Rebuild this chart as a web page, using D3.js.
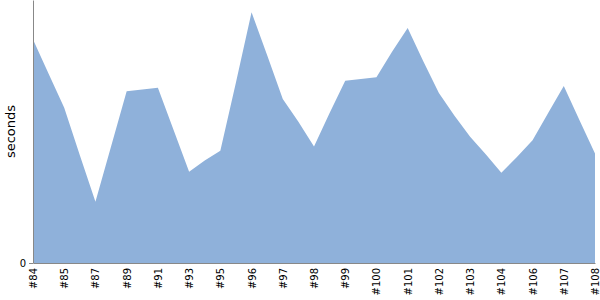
<!DOCTYPE html>
<html>
<head>
<meta charset="utf-8">
<script src="https://cdn.jsdelivr.net/npm/d3@7"></script>
<style>
  body { margin: 0; background: #fff; }
  svg { display: block; font-family: "DejaVu Sans", sans-serif; }
</style>
</head>
<body>
<div id="chart"></div>
<script>
// build labels (only every other point carries a label)
const buildLabels = ['#84', '#85', '#87', '#89', '#91', '#93', '#95', '#96', '#97', '#98',
  '#99', '#100', '#101', '#102', '#103', '#104', '#106', '#107', '#108'];
// duration per run, seconds
const durations = [255, 216, 177, 123, 70, 133, 196, 198, 200, 152, 104, 117, 128, 206, 286,
  237, 187, 161, 133, 171, 208, 210, 212, 241, 268, 230, 194, 168, 144, 124, 103, 121, 140,
  171, 202, 163, 125];
const yTicks = [0];
const yMax = 300;

const width = 600, height = 300;
const margin = { top: 0, right: 5, bottom: 37, left: 33 };

const svg = d3.select('#chart').append('svg')
  .attr('width', width).attr('height', height);

const x = d3.scaleLinear()
  .domain([0, durations.length - 1])
  .range([margin.left, width - margin.right]);
const y = d3.scaleLinear()
  .domain([0, yMax])
  .range([height - margin.bottom, margin.top]);

// area
const area = d3.area()
  .x((d, i) => x(i))
  .y0(y(0))
  .y1(d => y(d));

svg.append('path')
  .datum(durations)
  .attr('fill', '#8fb1da')
  .attr('d', area);

// x axis
const xAxis = svg.append('g')
  .attr('transform', 'translate(0,' + y(0) + ')')
  .call(d3.axisBottom(x)
    .tickValues(d3.range(0, durations.length, 2))
    .tickFormat(i => buildLabels[i / 2])
    .tickSize(0)
    .tickSizeOuter(0));
xAxis.select('.domain').attr('stroke', '#888');
xAxis.selectAll('text')
  .attr('font-size', 10)
  .attr('font-family', '"DejaVu Sans", sans-serif')
  .attr('fill', '#000')
  .attr('transform', 'rotate(-90)')
  .attr('text-anchor', 'end')
  .attr('x', -5)
  .attr('y', 0)
  .attr('dy', '0.35em');

// y axis
const yAxis = svg.append('g')
  .attr('transform', 'translate(' + margin.left + ',0)')
  .call(d3.axisLeft(y).tickValues(yTicks).tickSize(4).tickSizeOuter(0));
yAxis.select('.domain').attr('stroke', '#888');
yAxis.selectAll('.tick line').attr('stroke', '#888');
yAxis.selectAll('text')
  .attr('font-size', 10)
  .attr('font-family', '"DejaVu Sans", sans-serif')
  .attr('fill', '#000');

// y label
svg.append('text')
  .attr('transform', 'translate(15,' + ((height - margin.bottom) / 2) + ') rotate(-90)')
  .attr('text-anchor', 'middle')
  .attr('font-size', 13)
  .attr('fill', '#000')
  .text('seconds');
</script>
</body>
</html>
